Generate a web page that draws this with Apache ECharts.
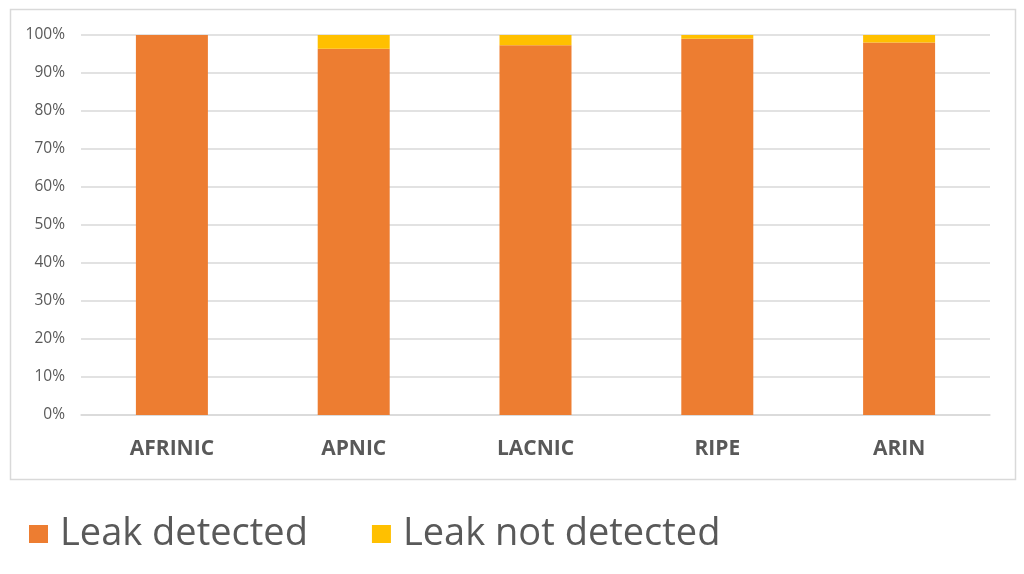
<!DOCTYPE html>
<html>
<head>
<meta charset="utf-8">
<script src="https://cdn.jsdelivr.net/npm/echarts@6/dist/echarts.min.js"></script>
<style>
  html, body { margin: 0; padding: 0; background: #fff; }
  #chart { width: 1024px; height: 574px; }
</style>
</head>
<body>
<div id="chart"></div>
<script>
// 数据
const regions = ['AFRINIC', 'APNIC', 'LACNIC', 'RIPE', 'ARIN'];
const detected = [100, 96.4, 97.3, 99.0, 98.0];
const notDetected = [0, 3.6, 2.7, 1.0, 2.0];
const yTicks = [0, 10, 20, 30, 40, 50, 60, 70, 80, 90, 100];

const font = '"Open Sans", "Noto Sans", sans-serif';
const textColor = '#595959';

const chart = echarts.init(document.getElementById('chart'));
chart.setOption({
    animation: false,
    textStyle: { fontFamily: font },
    graphic: [{
        type: 'rect',
        shape: { x: 10.5, y: 9.5, width: 1005, height: 470 },
        style: { fill: 'none', stroke: '#d9d9d9', lineWidth: 1.5 },
        silent: true
    }],
    grid: { left: 81, right: 34, top: 35, bottom: 159 },
    legend: {
        left: 24,
        top: 508,
        itemWidth: 19,
        itemHeight: 18,
        itemGap: 64,
        icon: 'rect',
        textStyle: { fontSize: 38, color: textColor, fontFamily: font, padding: [0, 0, 0, 7], lineHeight: 42 },
        data: ['Leak detected', 'Leak not detected']
    },
    xAxis: {
        type: 'category',
        data: regions,
        axisLine: { lineStyle: { color: '#d9d9d9', width: 1.5 } },
        axisTick: { show: false },
        axisLabel: { color: textColor, fontSize: 21, fontWeight: 'bold', margin: 24, fontFamily: font }
    },
    yAxis: {
        type: 'value',
        min: yTicks[0],
        max: yTicks[yTicks.length - 1],
        interval: 10,
        axisLine: { show: false },
        axisTick: { show: false },
        splitLine: { lineStyle: { color: '#d9d9d9', width: 1.5 } },
        axisLabel: { color: textColor, fontSize: 15.5, margin: 16, formatter: v => v + '%', fontFamily: font }
    },
    series: [
        {
            name: 'Leak detected',
            type: 'bar',
            stack: 'total',
            barWidth: '39.6%',
            data: detected,
            itemStyle: { color: '#ED7D31' }
        },
        {
            name: 'Leak not detected',
            type: 'bar',
            stack: 'total',
            data: notDetected,
            itemStyle: { color: '#FFC000' }
        }
    ]
});
</script>
</body>
</html>
